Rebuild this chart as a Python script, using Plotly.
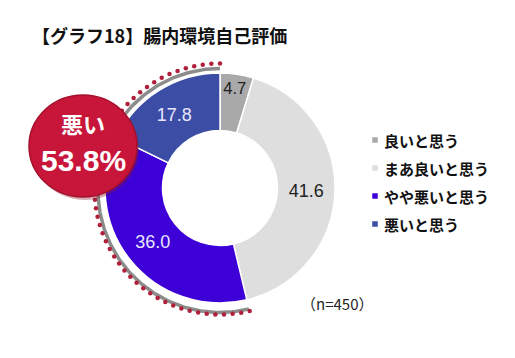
import numpy as np
import plotly.graph_objects as go

# ---- data ----
labels = ["良いと思う", "まあ良いと思う", "やや悪いと思う", "悪いと思う"]
values = [4.7, 41.6, 36.0, 17.8]
colors = ["#a9a9a9", "#dedede", "#3d00d6", "#3c4da6"]
text_colors = ["#222222", "#222222", "#e8e6ff", "#e8e6ff"]
bad_label = "悪い"
bad_share = values[2] + values[3]
title_text = "【グラフ18】腸内環境自己評価"
n_text = "（n=450）"

W, H = 515, 358
cx, cy, R = 212, 180, 115

fig = go.Figure()

fig.add_trace(go.Pie(
    labels=labels, values=values, sort=False, direction="clockwise",
    rotation=0, hole=0.5,
    marker=dict(colors=colors, line=dict(color="white", width=1.5)),
    text=[f"{v:.1f}" for v in values], textinfo="text",
    textposition="inside", insidetextorientation="horizontal",
    textfont=dict(size=18, color=text_colors, family="Liberation Sans, Arial"),
    domain=dict(x=[(cx - R) / W, (cx + R) / W], y=[(H - cy - R) / H, (H - cy + R) / H]),
    showlegend=False, hoverinfo="label+value",
))

# dotted arc around the "bad" share (counter-clockwise from 12 o'clock)
span = bad_share / 100 * 2 * np.pi
t = np.linspace(0, span, 200)
r_sh = 122
fig.add_trace(go.Scatter(
    x=cx - r_sh * np.sin(t), y=cy + 2.5 - r_sh * np.cos(t), mode="lines",
    line=dict(color="#8c8c8c", width=3.5), hoverinfo="skip", showlegend=False))
ndots = 50
td = np.linspace(0, span, ndots)
r_d = 125.5
fig.add_trace(go.Scatter(
    x=cx - r_d * np.sin(td), y=cy + 1 - r_d * np.cos(td), mode="markers",
    marker=dict(color="#b0203a", size=4.5), hoverinfo="skip", showlegend=False))

# legend squares
leg_y = [132, 160, 188, 216]
fig.add_trace(go.Scatter(
    x=[367] * 4, y=leg_y, mode="markers",
    marker=dict(symbol="square", size=5.5, color=colors), hoverinfo="skip", showlegend=False))

annotations = []
for lab, yy in zip(labels, leg_y):
    annotations.append(dict(x=374, y=yy, xref="x", yref="y", text=f"<b>{lab}</b>", showarrow=False,
                            xanchor="left", yanchor="middle",
                            font=dict(size=15, color="#111111", family="Noto Sans CJK JP")))

annotations.append(dict(x=22, y=27, xref="x", yref="y", text=f"<b>{title_text}</b>",
                        showarrow=False, xanchor="left", yanchor="middle",
                        font=dict(size=18, color="#111111", family="Noto Sans CJK JP")))
annotations.append(dict(x=329, y=295, xref="x", yref="y", text=n_text, showarrow=False,
                        xanchor="center", yanchor="middle",
                        font=dict(size=15, color="#222222", family="Noto Sans CJK JP")))
annotations.append(dict(x=75, y=115, xref="x", yref="y", text=f"<b>{bad_label}</b>",
                        showarrow=False, xanchor="center", yanchor="middle",
                        font=dict(size=22, color="white", family="Noto Sans CJK JP")))
annotations.append(dict(x=75, y=152, xref="x", yref="y", text=f"<b>{bad_share:.1f}%</b>",
                        showarrow=False, xanchor="center", yanchor="middle",
                        font=dict(size=30, color="white", family="Liberation Sans, Arial")))

shapes = [
    dict(type="circle", xref="x", yref="y", x0=23, x1=131, y0=90, y1=192,
         fillcolor="#8a1a2a", line=dict(width=0), layer="above", opacity=0.35),
    dict(type="circle", xref="x", yref="y", x0=21, x1=129, y0=87, y1=189,
         fillcolor="#c8163a", line=dict(color="#a50f2b", width=1.5), layer="above"),
]

fig.update_layout(
    width=W, height=H, margin=dict(l=0, r=0, t=0, b=0),
    paper_bgcolor="white", plot_bgcolor="white",
    xaxis=dict(range=[0, W], visible=False, fixedrange=True),
    yaxis=dict(range=[H, 0], visible=False, fixedrange=True),
    annotations=annotations, shapes=shapes,
)

fig.write_html("out.html")
